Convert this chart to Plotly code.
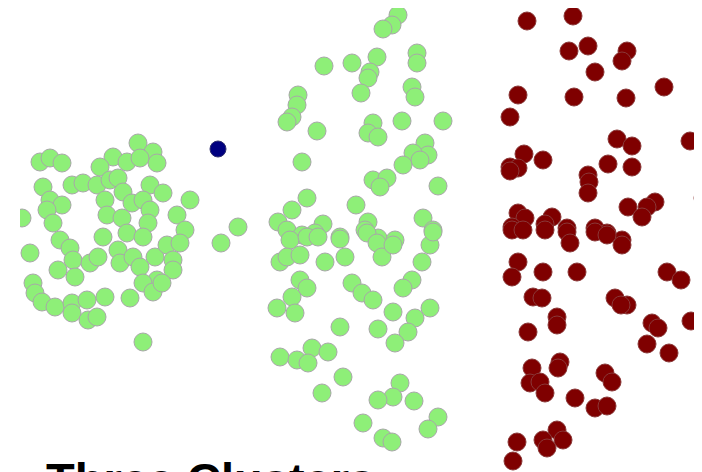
import plotly.graph_objects as go

# Cluster A (left, light green)
left_x = [138,153,157,113,100,127,140,40,50,62,43,72,83,97,110,118,123,150,163,190,
          50,62,47,53,105,107,122,132,143,150,148,177,185,238,221,22,103,127,143,30,
          60,70,73,58,75,90,98,118,120,133,140,155,167,173,180,173,157,143,153,162,
          33,35,42,55,72,87,72,88,97,105,130,143]
left_y = [143,152,163,157,167,162,158,162,158,163,187,185,183,185,180,178,192,185,193,200,
          200,205,210,223,200,215,218,203,200,210,223,215,230,227,243,218,237,233,237,253,
          240,248,260,270,277,263,257,250,263,257,267,257,245,260,243,270,280,283,292,283,
          283,293,302,307,303,300,313,320,317,297,298,342]

# Cluster B (middle, light green)
mid_x = [398,392,383,324,352,377,370,368,361,417,417,412,415,298,297,292,287,317,373,368,
         378,402,443,425,428,413,420,403,302,373,387,380,438,307,356,292,278,287,323,315,
         302,340,368,365,378,395,423,433,
         290,307,318,340,280,287,300,325,345,367,377,382,393,430,422,433,300,307,292,277,
         295,352,362,373,412,403,393,415,430,408,395,340,378,312,328,280,297,308,343,322,
         400,393,378,414,363,438,428,383,392]
mid_y = [15,25,29,66,63,57,72,78,93,53,63,87,97,95,105,117,122,131,123,133,
         137,121,121,143,155,153,160,165,162,180,178,187,186,198,205,210,222,230,224,233,
         235,237,222,230,238,240,218,230,
         240,237,237,239,262,257,255,262,257,233,243,257,245,245,262,232,280,288,297,308,
         313,283,293,300,280,288,312,318,308,332,343,327,329,348,352,357,360,363,377,393,
         383,397,400,401,423,417,429,438,442]

# Cluster C (right, dark red)
right_x = [527,573,569,588,627,622,595,664,518,574,626,510,617,632,690,524,543,510,518,510,
           608,632,588,589,588,703,628,655,647,642,518,525,512,552,545,567,595,607,622,
           512,523,545,567,595,607,570,622,518,512,543,577,667,681,533,542,615,627,621,557,
           557,528,652,658,691,647,669,560,558,532,530,540,545,605,612,575,595,607,557,543,
           563,547,517,513]
right_y = [21,16,51,46,51,61,72,87,95,97,98,117,139,146,141,154,160,167,168,171,
           164,167,175,182,193,198,207,202,207,217,213,218,227,217,224,228,228,233,240,
           230,230,230,232,232,235,243,245,262,277,272,272,272,280,297,298,298,305,305,317,
           325,332,323,328,321,344,353,362,368,368,383,382,393,373,382,398,408,406,430,440,
           440,448,442,461]

# Single outlier (navy)
outlier_x = [218]
outlier_y = [149]

GREEN = "#8EEF78"
RED = "#7F0000"
NAVY = "#000080"

fig = go.Figure()
fig.add_trace(go.Scatter(x=left_x, y=left_y, mode="markers",
                         marker=dict(size=18, color=GREEN, line=dict(color="#A8A8A8", width=1))))
fig.add_trace(go.Scatter(x=mid_x, y=mid_y, mode="markers", cliponaxis=False,
                         marker=dict(size=18, color=GREEN, line=dict(color="#A8A8A8", width=1))))
fig.add_trace(go.Scatter(x=right_x, y=right_y, mode="markers", cliponaxis=False,
                         marker=dict(size=18, color=RED, line=dict(color="#8A3838", width=1))))
fig.add_trace(go.Scatter(x=outlier_x, y=outlier_y, mode="markers",
                         marker=dict(size=16, color=NAVY, line=dict(color="#303070", width=1))))

fig.add_annotation(text="<b>Three Clusters</b>", x=44, y=451, xref="x", yref="y",
                   xanchor="left", yanchor="top", showarrow=False,
                   font=dict(family="Liberation Sans, Arial, sans-serif", size=47, color="#000000"))

# The page body has an 8px margin, so the figure is drawn 8px right/down;
# axis ranges are set in page-pixel units to compensate.
fig.update_layout(
    width=702, height=472,
    margin=dict(l=12, r=0, t=0, b=0),
    paper_bgcolor="white", plot_bgcolor="white",
    showlegend=False,
    xaxis=dict(range=[20, 710], visible=False),
    yaxis=dict(range=[480, 8], visible=False),
)

fig.write_html("out.html")
